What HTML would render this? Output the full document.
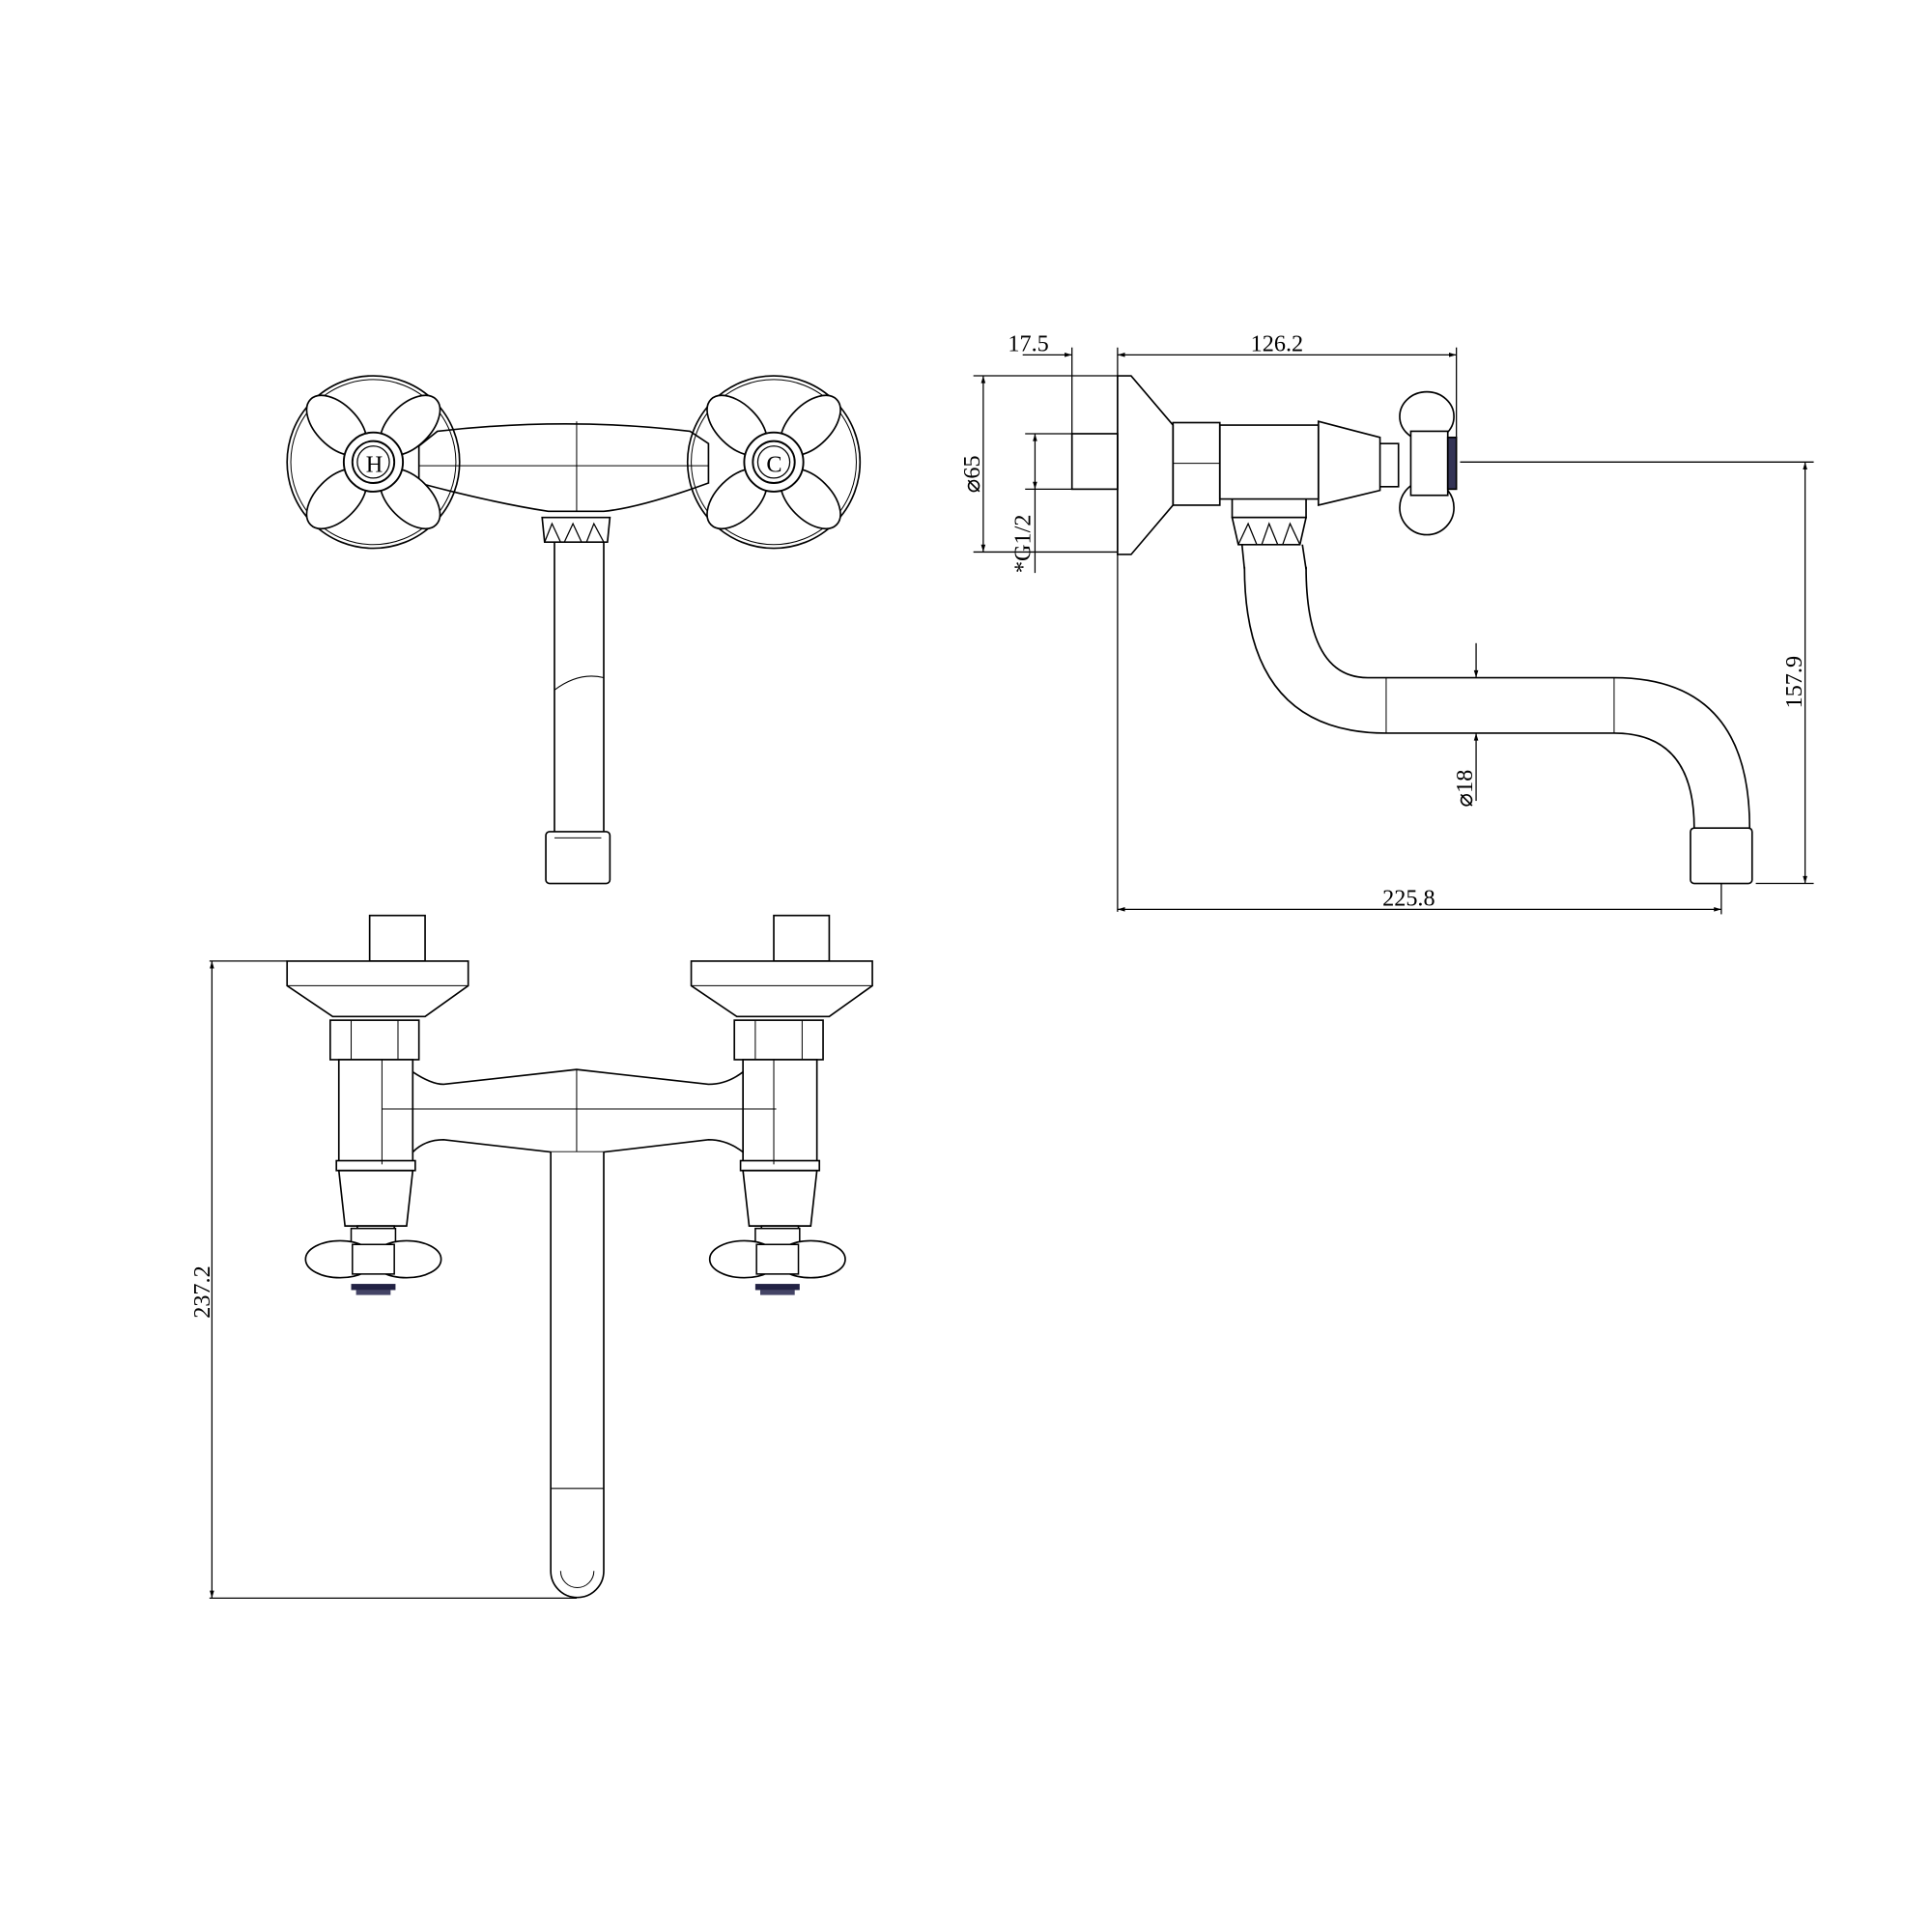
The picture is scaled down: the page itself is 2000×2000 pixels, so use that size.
<!DOCTYPE html>
<html><head><meta charset="utf-8"><style>
html,body{margin:0;padding:0;background:#fff}
svg{display:block}
text{font-family:"Liberation Serif",serif;font-size:19px;fill:#000}
</style></head><body>
<svg width="2000" height="2000" viewBox="0 0 1568 1568" xmlns="http://www.w3.org/2000/svg">
<defs>
<marker id="a" viewBox="0 0 10 10" refX="10" refY="5" markerWidth="14" markerHeight="6" orient="auto-start-reverse" markerUnits="userSpaceOnUse"><path d="M0,2 L10,5 L0,8z" fill="#000"/></marker>
<g id="cross">
  <circle r="70" fill="none" stroke="#000" stroke-width="1.3"/>
  <circle r="67" fill="none" stroke="#000" stroke-width="0.8"/>
  <g fill="#fff" stroke="#000" stroke-width="1.3">
    <ellipse cx="0" cy="-42" rx="17" ry="30" transform="rotate(-45)"/>
    <ellipse cx="0" cy="-42" rx="17" ry="30" transform="rotate(45)"/>
    <ellipse cx="0" cy="-42" rx="17" ry="30" transform="rotate(135)"/>
    <ellipse cx="0" cy="-42" rx="17" ry="30" transform="rotate(225)"/>
  </g>
  <circle r="24" fill="#fff" stroke="#000" stroke-width="1.5"/>
  <circle r="17" fill="#fff" stroke="#000" stroke-width="1.5"/>
  <circle r="13" fill="none" stroke="#000" stroke-width="1"/>
</g>
<g id="handleF">
  <rect x="-18" y="-25" width="36" height="20" fill="#fff" stroke="#000" stroke-width="1.2"/>
  <ellipse cx="-27" cy="0" rx="28" ry="15" fill="#fff" stroke="#000" stroke-width="1.3"/>
  <ellipse cx="27" cy="0" rx="28" ry="15" fill="#fff" stroke="#000" stroke-width="1.3"/>
  <rect x="-17" y="-12" width="34" height="24" fill="#fff" stroke="#000" stroke-width="1.2"/>
  <rect x="-18" y="20" width="36" height="5" fill="#224" />
  <rect x="-14" y="25" width="28" height="4" fill="#446"/>
</g>
</defs>
<g fill="none" stroke="#000" stroke-width="1.3">
<!-- TOP VIEW -->
<path d="M355,350 Q460,338 560,350 L575,360 L575,392 Q520,412 490,415 L445,415 Q400,408 340,392 L340,362z" fill="#fff"/>
<line x1="468" y1="342" x2="468" y2="415" stroke-width="0.8"/>
<line x1="340" y1="378" x2="575" y2="378" stroke-width="0.8"/>
<use href="#cross" x="303" y="375"/>
<use href="#cross" x="628" y="375"/>
<text x="297" y="383" stroke="none" font-size="20">H</text>
<text x="622" y="383" stroke="none" font-size="20">C</text>
<path d="M440,420 L495,420 L493,440 L442,440z"/>
<path d="M442,440 L448,425 L455,440 M458,440 L465,425 L472,440 M476,440 L482,425 L490,440" stroke-width="1"/>
<path d="M450,440 L450,675 M490,440 L490,675"/>
<path d="M450,560 Q470,545 490,550" stroke-width="0.8"/>
<rect x="443" y="675" width="52" height="42" rx="3"/>
<line x1="450" y1="680" x2="488" y2="680" stroke-width="0.8"/>

<!-- SIDE VIEW -->
<path d="M907,305 L918,305 L952,345 L952,410 L918,450 L907,450z" fill="#fff"/>
<rect x="870" y="352" width="37" height="45"/>
<rect x="952" y="343" width="38" height="67"/>
<line x1="952" y1="376" x2="990" y2="376" stroke-width="0.8"/>
<path d="M990,345 L1070,345 L1070,405 L990,405z"/>
<path d="M1000,405 L1000,420 L1060,420 L1060,405"/>
<path d="M1070,342 L1120,355 L1120,398 L1070,410z"/>
<path d="M1120,360 L1135,360 L1135,395 L1120,395"/>
<ellipse cx="1158" cy="338" rx="22" ry="20"/>
<ellipse cx="1158" cy="412" rx="22" ry="22"/>
<rect x="1145" y="350" width="30" height="52" fill="#fff"/>
<rect x="1175" y="355" width="7" height="42" fill="#335"/>
<path d="M1000,420 L1060,420 L1055,442 L1005,442z"/>
<path d="M1005,442 L1013,425 L1020,442 M1024,442 L1030,425 L1037,442 M1041,442 L1047,425 L1055,442" stroke-width="1"/>
<path d="M1010,460 Q1010,595 1125,595 L1310,595 Q1375,595 1375,672"/>
<path d="M1060,460 Q1060,550 1110,550 L1310,550 Q1420,550 1420,672"/>
<path d="M1008,442 L1010,462 M1057,442 L1060,462"/>
<line x1="1125" y1="550" x2="1125" y2="595" stroke-width="0.8"/>
<line x1="1310" y1="550" x2="1310" y2="595" stroke-width="0.8"/>
<rect x="1372" y="672" width="50" height="45" rx="3"/>
</g>
<!-- side dims -->
<g stroke="#000" stroke-width="1" fill="none">
<line x1="870" y1="282" x2="870" y2="352"/>
<line x1="907" y1="282" x2="907" y2="740"/>
<line x1="1182" y1="282" x2="1182" y2="355"/>
<line x1="830" y1="288" x2="870" y2="288" marker-end="url(#a)"/>
<line x1="907" y1="288" x2="1182" y2="288" marker-start="url(#a)" marker-end="url(#a)"/>
<line x1="790" y1="305" x2="907" y2="305"/>
<line x1="790" y1="448" x2="907" y2="448"/>
<line x1="798" y1="305" x2="798" y2="448" marker-start="url(#a)" marker-end="url(#a)"/>
<line x1="832" y1="352" x2="870" y2="352"/>
<line x1="832" y1="397" x2="870" y2="397"/>
<line x1="840" y1="352" x2="840" y2="397" marker-start="url(#a)" marker-end="url(#a)"/>
<line x1="840" y1="397" x2="840" y2="465"/>
<line x1="1185" y1="375" x2="1472" y2="375"/>
<line x1="1425" y1="717" x2="1472" y2="717"/>
<line x1="1465" y1="375" x2="1465" y2="717" marker-start="url(#a)" marker-end="url(#a)"/>
<line x1="1397" y1="717" x2="1397" y2="742"/>
<line x1="907" y1="738" x2="1397" y2="738" marker-start="url(#a)" marker-end="url(#a)"/>
<line x1="1198" y1="522" x2="1198" y2="550" marker-end="url(#a)"/>
<line x1="1198" y1="650" x2="1198" y2="595" marker-end="url(#a)"/>
<line x1="170" y1="780" x2="233" y2="780"/>
<line x1="170" y1="1297" x2="468" y2="1297"/>
<line x1="172" y1="780" x2="172" y2="1297" marker-start="url(#a)" marker-end="url(#a)"/>
</g>
<text x="818" y="285">17.5</text>
<text x="1015" y="285">126.2</text>
<text x="1122" y="735">225.8</text>
<text transform="translate(795,400) rotate(-90)">⌀65</text>
<text transform="translate(836,465) rotate(-90)">*G1/2</text>
<text transform="translate(1462,575) rotate(-90)">157.9</text>
<text transform="translate(1195,655) rotate(-90)">⌀18</text>
<text transform="translate(170,1070) rotate(-90)">237.2</text>

<!-- FRONT VIEW -->
<g fill="#fff" stroke="#000" stroke-width="1.3">
<g id="valve">
<rect x="300" y="743" width="45" height="37"/>
<path d="M233,780 L380,780 L380,800 L345,825 L270,825 L233,800z"/>
<line x1="233" y1="800" x2="380" y2="800" stroke-width="0.8"/>
<rect x="268" y="828" width="72" height="32"/>
<line x1="285" y1="828" x2="285" y2="860" stroke-width="0.8"/>
<line x1="323" y1="828" x2="323" y2="860" stroke-width="0.8"/>
<rect x="275" y="860" width="60" height="85"/>
<rect x="273" y="942" width="64" height="8"/>
<path d="M275,950 L335,950 L330,995 L280,995z"/>
<rect x="290" y="995" width="30" height="12"/>
</g>
<use href="#valve" x="328"/>
<path d="M335,870 Q350,880 360,880 L468,868 L575,880 Q590,880 603,870 L603,935 Q590,925 575,925 L490,935 L447,935 L360,925 Q345,925 335,935z"/>
<line x1="468" y1="868" x2="468" y2="935" stroke-width="0.8"/>
<line x1="310" y1="900" x2="630" y2="900" stroke-width="0.8"/>
<line x1="310" y1="860" x2="310" y2="945" stroke-width="0.8"/>
<line x1="628" y1="860" x2="628" y2="945" stroke-width="0.8"/>
<path d="M447,935 L447,1275 A21,21 0 0 0 490,1275 L490,935"/>
<line x1="447" y1="1208" x2="490" y2="1208" stroke-width="0.8"/>
<path d="M455,1275 A13,13 0 0 0 482,1275" stroke-width="0.8"/>
</g>
<use href="#handleF" x="303" y="1022"/>
<use href="#handleF" x="631" y="1022"/>
</svg>
</body></html>
